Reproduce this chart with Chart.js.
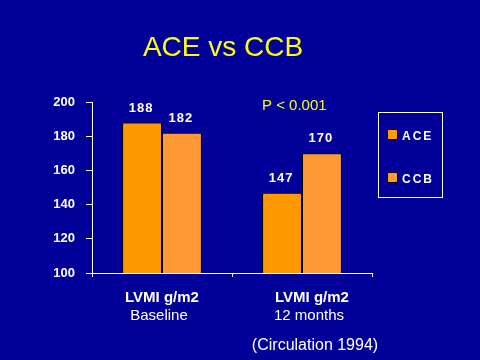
<!DOCTYPE html>
<html>
<head>
<meta charset="utf-8">
<script src="https://cdn.jsdelivr.net/npm/chart.js@4/dist/chart.umd.min.js"></script>
<style>
  html, body { margin: 0; padding: 0; background: #000099; }
  canvas { display: block; }
</style>
</head>
<body>
<canvas id="grafico" width="480" height="360"></canvas>
<script>
const categorias = ["Baseline", "12 months"];
const etiquetaEje = "LVMI g/m2";
const serieACE = [188, 147];
const serieCCB = [182, 170];
const ticksY = [100, 120, 140, 160, 180, 200];
const titulo = "ACE vs CCB";
const textoP = "P < 0.001";
const cita = "(Circulation 1994)";

const FUENTE = "'Liberation Sans', Arial, sans-serif";
const FONDO = "#000099";

const pluginDibujo = {
  id: "dibujo",
  beforeDraw(chart) {
    const ctx = chart.ctx;
    ctx.save();
    ctx.fillStyle = FONDO;
    ctx.fillRect(0, 0, chart.width, chart.height);
    ctx.restore();
  },
  afterDraw(chart) {
    const ctx = chart.ctx;
    const x = chart.scales.x;
    ctx.save();

    // titulo
    ctx.fillStyle = "#ffff00";
    ctx.textAlign = "center";
    ctx.textBaseline = "alphabetic";
    ctx.font = `28px ${FUENTE}`;
    ctx.fillText(titulo, 223, 56);

    // p valor
    ctx.font = `15px ${FUENTE}`;
    ctx.textAlign = "left";
    ctx.fillText(textoP, 262, 110);

    // valores sobre barras
    ctx.fillStyle = "#ffffff";
    ctx.textAlign = "center";
    ctx.font = `bold 13px ${FUENTE}`;
    ctx.letterSpacing = "1px";
    chart.data.datasets.forEach((ds, i) => {
      chart.getDatasetMeta(i).data.forEach((bar, j) => {
        ctx.fillText(String(ds.data[j]), bar.x - 1, bar.y - 11);
      });
    });
    ctx.letterSpacing = "0px";

    // etiquetas del eje x (la segunda va algo corrida a la derecha en el original)
    const corrimiento = [0, 10];
    categorias.forEach((cat, i) => {
      const px = x.getPixelForValue(i) + corrimiento[i];
      ctx.font = `bold 15px ${FUENTE}`;
      ctx.fillText(etiquetaEje, px, 302);
      ctx.font = `15px ${FUENTE}`;
      ctx.fillText(cat, px - 3, 320);
    });

    // cita
    ctx.font = `16px ${FUENTE}`;
    ctx.fillText(cita, 315, 350);

    // leyenda
    ctx.strokeStyle = "#ffffff";
    ctx.lineWidth = 1;
    ctx.strokeRect(378.5, 112.5, 64, 85);
    ctx.textAlign = "left";
    ctx.font = `bold 12px ${FUENTE}`;
    ctx.letterSpacing = "2px";
    chart.data.datasets.forEach((ds, i) => {
      const y = 129.5 + i * 43;
      ctx.fillStyle = ds.backgroundColor;
      ctx.fillRect(387.5, y, 10, 10);
      ctx.strokeStyle = "#000000";
      ctx.strokeRect(387.5, y, 10, 10);
      ctx.fillStyle = "#ffffff";
      ctx.fillText(ds.label, 402, y + 10);
    });
    ctx.restore();
  }
};

new Chart(document.getElementById("grafico"), {
  type: "bar",
  data: {
    labels: categorias,
    datasets: [
      { label: "ACE", data: serieACE, backgroundColor: "#ff9900", borderColor: "#000000", borderWidth: 1, categoryPercentage: 0.57, barPercentage: 1 },
      { label: "CCB", data: serieCCB, backgroundColor: "#ff9933", borderColor: "#000000", borderWidth: 1, categoryPercentage: 0.57, barPercentage: 1 }
    ]
  },
  options: {
    responsive: false,
    animation: false,
    layout: { padding: { top: 102, right: 108, bottom: 0, left: 0 } },
    plugins: {
      legend: { display: false },
      title: { display: false },
      tooltip: { enabled: false }
    },
    scales: {
      x: {
        afterFit: (s) => { s.height = 87; },
        grid: { display: true, drawOnChartArea: false, offset: true, tickLength: 4, color: "#ffffff" },
        border: { color: "#ffffff", width: 1 },
        ticks: { display: false }
      },
      y: {
        min: ticksY[0],
        max: ticksY[ticksY.length - 1],
        afterFit: (s) => { s.width = 92; },
        afterBuildTicks: (s) => { s.ticks = ticksY.map((v) => ({ value: v })); },
        grid: { display: true, drawOnChartArea: false, tickLength: 6, color: "#ffffff" },
        border: { color: "#ffffff", width: 1 },
        ticks: { color: "#ffffff", padding: 11, font: { family: FUENTE, size: 13, weight: "bold" } }
      }
    }
  },
  plugins: [pluginDibujo]
});
</script>
</body>
</html>
